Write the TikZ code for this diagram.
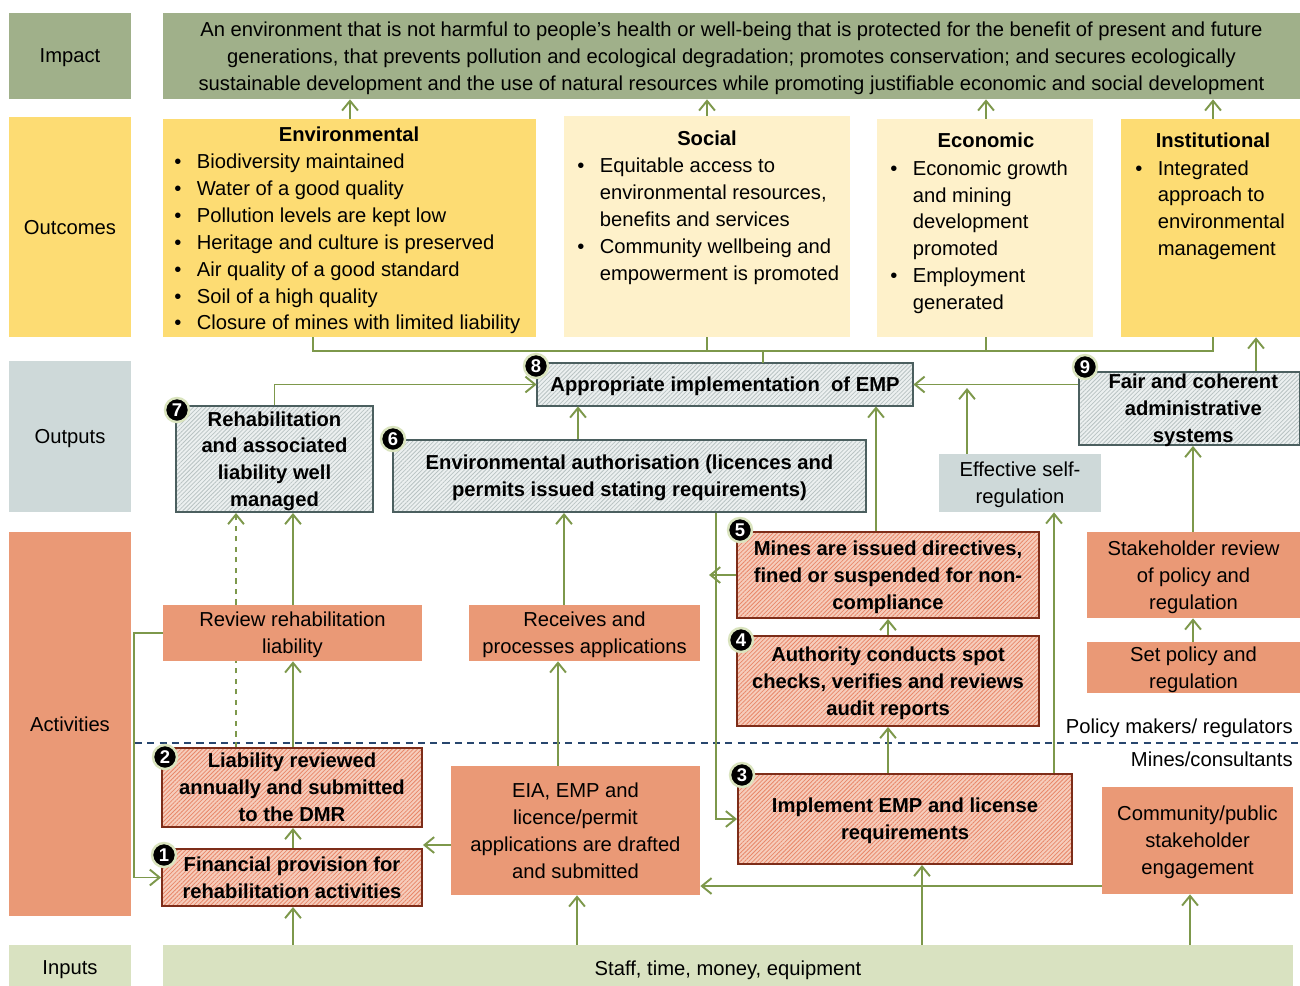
\documentclass[tikz,border=0pt]{standalone}
\usepackage{fontspec}
\setmainfont{Liberation Sans}
\usetikzlibrary{arrows.meta, patterns.meta}

\definecolor{impactc}{RGB}{160,176,138}
\definecolor{outcomec}{RGB}{253,220,115}
\definecolor{paleyc}{RGB}{254,241,202}
\definecolor{outputc}{RGB}{206,217,217}
\definecolor{actc}{RGB}{234,153,118}
\definecolor{inputc}{RGB}{217,226,193}
\definecolor{linkc}{RGB}{125,152,75}
\definecolor{divc}{RGB}{40,70,110}
\definecolor{outline}{RGB}{75,95,95}
\definecolor{outfill}{RGB}{236,240,240}
\definecolor{outhatch}{RGB}{185,195,195}
\definecolor{actline}{RGB}{125,45,25}
\definecolor{actfill}{RGB}{246,205,188}
\definecolor{acthatch}{RGB}{232,135,105}
\definecolor{badge}{RGB}{218,228,190}

\newcommand{\dfont}{\fontsize{11.5}{15.3}\selectfont}
\newcommand{\itm}{\makebox[0.45cm][l]{\textbullet}}
\newcommand{\cont}{\hspace*{0.45cm}}

\begin{document}
\begin{tikzpicture}[x=0.02cm, y=-0.02cm, font=\dfont,
	>={Straight Barb[length=5.5pt,width=9pt]},
	boxwh/.style 2 args={minimum width=#1*0.02cm, minimum height=#2*0.02cm},
	band/.style={inner sep=0, align=center, text depth=0pt},
	outbox/.style={draw=outline, line width=1.1pt, preaction={fill=outfill},
		pattern={Lines[angle=45,distance=1.7pt,line width=0.45pt]}, pattern color=outhatch,
		inner sep=0, align=center, text depth=0pt, font=\dfont\bfseries},
	actbox/.style={draw=actline, line width=1.1pt, preaction={fill=actfill},
		pattern={Lines[angle=45,distance=1.7pt,line width=0.45pt]}, pattern color=acthatch,
		inner sep=0, align=center, text depth=0pt, font=\dfont\bfseries},
	list/.style={inner sep=0, align=left, anchor=west, text depth=0pt},
	num/.style={circle, fill=black, draw=badge, line width=1.4pt, text=white,
		font=\fontsize{10.5}{11}\selectfont\bfseries, inner sep=0, minimum size=0.48cm},
	link/.style={draw=linkc, line width=1.1pt}]

			\useasboundingbox (0,0) rectangle (1300,985);
			\fill[white] (0,0) rectangle (1300,985);

			% row labels
			\node[band, fill=impactc, boxwh={122}{86}] (impL) at (70,56) {Impact};
			\node[band, fill=outcomec, boxwh={122}{220}] (outcL) at (70,227) {Outcomes};
			\node[band, fill=outputc, boxwh={122}{151}] (outpL) at (70,436.5) {Outputs};
			\node[band, fill=actc, boxwh={122}{384}] (actL) at (70,724) {Activities};
			\node[band, fill=inputc, boxwh={122}{46}] (inpL) at (70,968) {Inputs};

			% impact
			\node[band, fill=impactc, boxwh={1137}{86}] (impact) at (731.5,56)
				{An environment that is not harmful to people’s health or well-being that is protected for the benefit of present and future\\
				generations, that prevents pollution and ecological degradation; promotes conservation; and secures ecologically\\
				sustainable development and the use of natural resources while promoting justifiable economic and social development};

			% outcomes
			\node[band, fill=outcomec, boxwh={373}{218}] (env) at (349.5,228) {};
			\node[font=\dfont\bfseries, inner sep=0] (envT) at (349,134) {Environmental};
			\node[list] (envL) at (174,242)
				{\itm Biodiversity maintained\\ \itm Water of a good quality\\ \itm Pollution levels are kept low\\
				\itm Heritage and culture is preserved\\ \itm Air quality of a good standard\\
				\itm Soil of a high quality\\ \itm Closure of mines with limited liability};

			\node[band, fill=paleyc, boxwh={286}{221}] (soc) at (707,226.5) {};
			\node[font=\dfont\bfseries, inner sep=0] (socT) at (707,138) {Social};
			\node[list] (socL) at (577,219)
				{\itm Equitable access to\\ \cont environmental resources,\\ \cont benefits and services\\
				\itm Community wellbeing and\\ \cont empowerment is promoted};

			\node[band, fill=paleyc, boxwh={216}{218}] (eco) at (985,228) {};
			\node[font=\dfont\bfseries, inner sep=0] (ecoT) at (986,140) {Economic};
			\node[list] (ecoL) at (890,235)
				{\itm Economic growth\\ \cont and mining\\ \cont development\\ \cont promoted\\
				\itm Employment\\ \cont generated};

			\node[band, fill=outcomec, boxwh={179}{218}] (inst) at (1210.5,228) {};
			\node[font=\dfont\bfseries, inner sep=0] (instT) at (1213,140) {Institutional};
			\node[list] (instL) at (1135,208)
				{\itm Integrated\\ \cont approach to\\ \cont environmental\\ \cont management};

			% outputs
			\node[outbox, boxwh={376}{43}] (emp) at (725,384.5) {Appropriate\ implementation\ \ of EMP};
			\node[outbox, boxwh={197}{106}] (rehab) at (274.5,459) {Rehabilitation\\ and associated\\ liability well\\ managed};
			\node[outbox, boxwh={473}{72}] (auth) at (629.5,476) {Environmental authorisation (licences and\\ permits issued stating requirements)};
			\node[outbox, boxwh={221}{73}] (fair) at (1189.5,408.5) {\hspace*{0.15cm}Fair and coherent\\ \hspace*{0.15cm}administrative\\ \hspace*{0.15cm}systems};
			\node[band, fill=outputc, boxwh={162}{58}] (selfreg) at (1020,483) {Effective self-\\ regulation};

			% activities
			\node[band, fill=actc, boxwh={259}{56}] (review) at (292.5,633) {Review rehabilitation\\ liability};
			\node[band, fill=actc, boxwh={231}{56}] (recv) at (584.5,633) {Receives and\\ processes applications};
			\node[actbox, boxwh={302}{86}] (dir) at (888,575) {Mines are issued directives,\\ fined or suspended for non-\\ compliance};
			\node[actbox, boxwh={302}{90}] (spot) at (888,681) {Authority conducts spot\\ checks, verifies and reviews\\ audit reports};
			\node[band, fill=actc, boxwh={213}{86}] (stake) at (1193.5,575) {Stakeholder review\\ of policy and\\ regulation};
			\node[band, fill=actc, boxwh={213}{51}] (setpol) at (1193.5,667.5) {Set policy and\\ regulation};
			\node[actbox, boxwh={260}{79}] (liab) at (292,787.5) {Liability reviewed\\ annually and submitted\\ to the DMR};
			\node[actbox, boxwh={260}{57}] (fin) at (292,877.5) {Financial provision for\\ rehabilitation activities};
			\node[band, fill=actc, boxwh={249}{129}] (eia) at (575.5,830.5) {EIA, EMP and\\ licence/permit\\ applications are drafted\\ and submitted};
			\node[actbox, boxwh={334}{90}] (impl) at (905,819) {Implement\ EMP and license\\ requirements};
			\node[band, fill=actc, boxwh={191}{107}] (comm) at (1197.5,840.5) {Community/public\\ stakeholder\\ engagement};

			% inputs
			\node[band, fill=inputc, boxwh={1130}{46}] (inp) at (728,968) {Staff, time, money, equipment};

			% policy / mines divide
			\coordinate (dl) at (135,743);
			\coordinate (dr) at (1300,743);
			\draw[divc, line width=1.1pt, dash pattern=on 4pt off 3pt] (dl) -- (dr);
			\node[anchor=east, inner sep=0, text depth=0pt] (polL) at (1293,726) {Policy makers/ regulators};
			\node[anchor=east, inner sep=0, text depth=0pt] (minL) at (1293,759) {Mines/consultants};

			% outcomes to impact
			\draw[link,->] (env.north -| 350,0) -- (impact.south -| 350,0);
			\draw[link,->] (soc.north) -- (soc.north |- impact.south);
			\draw[link,->] (eco.north -| 986,0) -- (impact.south -| 986,0);
			\draw[link,->] (inst.north -| 1213,0) -- (impact.south -| 1213,0);
			\draw[link] (env.south -| 313,0) -- (313,351) -- (1213,351) -- (inst.south -| 1213,0)
				(soc.south -| 707,0) -- (707,351) (eco.south -| 986,0) -- (986,351)
				(763,351) -- (emp.north -| 763,0);

			% outputs
			\draw[link,->] (fair.north -| 1256,0) -- (inst.south -| 1256,0);
			\draw[link,->] (rehab.north) |- (emp.west);
			\draw[link,->] (auth.north -| 578,0) -- (emp.south -| 578,0);
			\draw[link,->] (dir.north -| 876,0) -- (emp.south -| 876,0);
			\draw[link,->] (fair.west |- emp.east) -- (emp.east);
			\draw[link,->] (selfreg.north -| 967,0) -- (967,388);
			\draw[link,->] (impl.north -| 1054,0) -- (selfreg.south -| 1054,0);
			\draw[link,->] (stake.north -| 1193,0) -- (fair.south -| 1193,0);
			\draw[link,->] (setpol.north -| 1193,0) -- (stake.south -| 1193,0);

			% activities
			\draw[link,->] (spot.north) -- (dir.south);
			\draw[link,->] (impl.north -| 888,0) -- (spot.south);
			\draw[link,->] (auth.south -| 716,0) |- (impl.west);
			\draw[link,->] (dir.west) -- (dir.west -| 709,0);
			\draw[link,->] (comm.west |- 0,886) -- (eia.east |- 0,886);
			\draw[link,->] (recv.north -| 564,0) -- (auth.south -| 564,0);
			\draw[link,->] (eia.north -| 558,0) -- (recv.south -| 558,0);
			\draw[link,->] (eia.west |- 0,845) -- (fin.east |- 0,845);
			\draw[link,->] (fin.north -| 293,0) -- (liab.south -| 293,0);
			\draw[link,->] (liab.north -| 293,0) -- (review.south -| 293,0);
			\draw[link,->] (review.north -| 293,0) -- (rehab.south -| 293,0);
			\draw[link, dashed] (liab.north -| 236,0) -- (review.south -| 236,0);
			\draw[link, dashed, ->] (review.north -| 236,0) -- (rehab.south -| 236,0);
			\draw[link,->] (review.west) -- ++(-29,0) |- (fin.west);

			% inputs
			\draw[link,->] (inp.north -| 293,0) -- (fin.south -| 293,0);
			\draw[link,->] (inp.north -| 577,0) -- (eia.south -| 577,0);
			\draw[link,->] (inp.north -| 922,0) -- (impl.south -| 922,0);
			\draw[link,->] (inp.north -| 1190,0) -- (comm.south -| 1190,0);

			% numbers
			\node[num] (n1) at (164,855) {1};
			\node[num] (n2) at (165,757) {2};
			\node[num] (n3) at (742,775) {3};
			\node[num] (n4) at (741,640) {4};
			\node[num] (n5) at (740,530) {5};
			\node[num] (n6) at (393,439) {6};
			\node[num] (n7) at (177,410) {7};
			\node[num] (n8) at (536,366) {8};
			\node[num] (n9) at (1085,367) {9};

		\end{tikzpicture}
\end{document}
